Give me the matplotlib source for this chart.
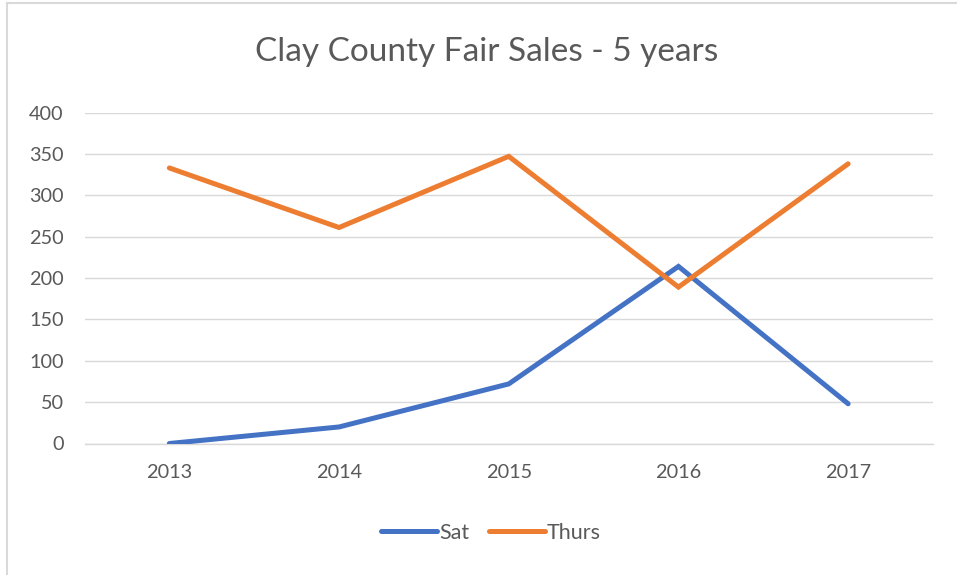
import matplotlib
matplotlib.use("Agg")
import matplotlib.pyplot as plt
from matplotlib.lines import Line2D

years = ["2013", "2014", "2015", "2016", "2017"]
sat = [0, 20, 72, 214, 48]
thurs = [333, 261, 347, 189, 338]
y_ticks = [0, 50, 100, 150, 200, 250, 300, 350, 400]
title = "Clay County Fair Sales - 5 years"

plt.rcParams['font.family'] = ['Lato', 'DejaVu Sans']
text_color = "#595959"
grid_color = "#D9D9D9"

fig = plt.figure(figsize=(9.57, 5.75), dpi=100)
ax = fig.add_axes([84.5 / 957, 1 - 443.5 / 575, (933 - 84.5) / 957, (443.5 - 112.5) / 575])

x = list(range(len(years)))
ax.plot(x, sat, color="#4472C4", lw=3.6, solid_capstyle="round", solid_joinstyle="miter", label="Sat", zorder=3)
ax.plot(x, thurs, color="#ED7D31", lw=3.6, solid_capstyle="round", solid_joinstyle="miter", label="Thurs", zorder=3)

ax.set_xlim(-0.5, len(years) - 0.5)
ax.set_ylim(0, 400)
ax.set_yticks(y_ticks)
ax.set_yticklabels([str(v) for v in y_ticks])
ax.set_xticks(x)
ax.set_xticklabels(years)
ax.tick_params(axis="both", length=0, labelsize=14.3, labelcolor=text_color)
ax.tick_params(axis="y", pad=15)
ax.tick_params(axis="x", pad=15)
ax.yaxis.grid(True, color=grid_color, lw=1.0)
ax.set_axisbelow(True)
for s in ["top", "right", "left"]:
    ax.spines[s].set_visible(False)
ax.spines["bottom"].set_color(grid_color)
ax.spines["bottom"].set_linewidth(1.0)

fig.text(487 / 957, 1 - 52 / 575, title, ha="center", va="center", fontsize=24,
         color=text_color, fontweight="normal")

leg = fig.legend(loc="center", bbox_to_anchor=(491 / 957, 1 - 533 / 575), ncol=2, frameon=False,
                 fontsize=15.5, handlelength=2.6, handletextpad=0.1, columnspacing=0.9)
for t in leg.get_texts():
    t.set_color(text_color)
for h in leg.get_lines():
    h.set_solid_capstyle("round")

# chart area border (left and top)
fig.add_artist(Line2D([7.5 / 957, 7.5 / 957], [0, 1 - 3 / 575], transform=fig.transFigure, color=grid_color, lw=1.5))
fig.add_artist(Line2D([7.5 / 957, 1], [1 - 3 / 575, 1 - 3 / 575], transform=fig.transFigure, color=grid_color, lw=1.5))

fig.savefig("out.png", dpi=100, facecolor="white")
